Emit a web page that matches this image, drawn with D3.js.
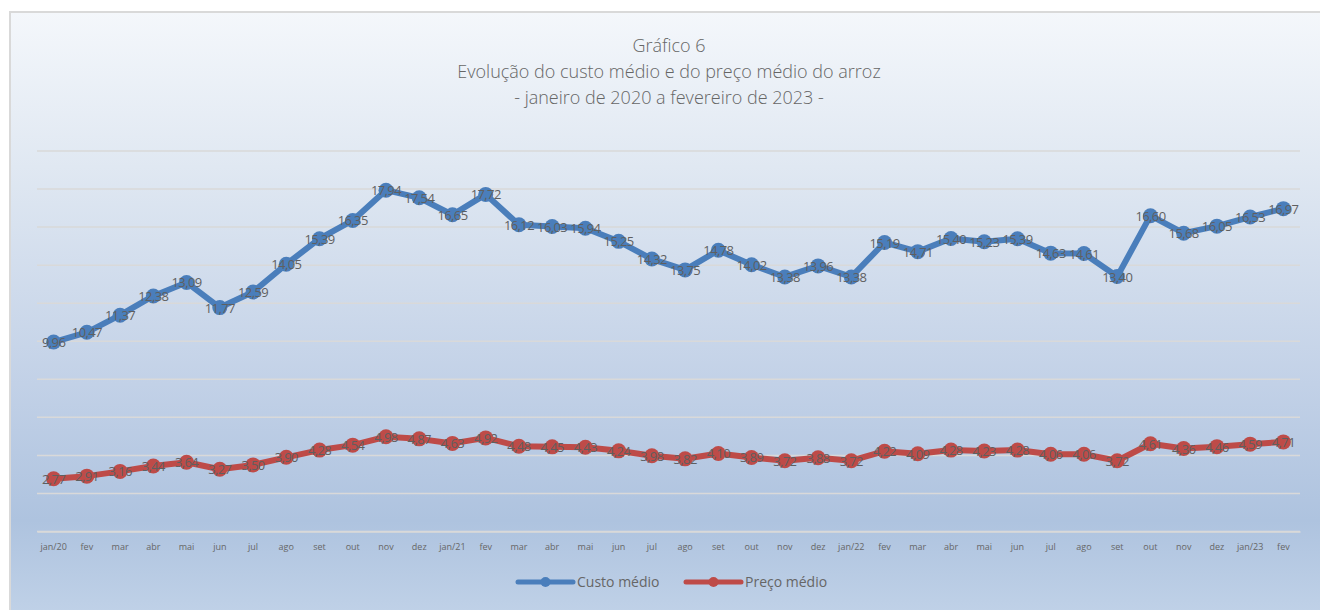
<!DOCTYPE html>
<html>
<head>
<meta charset="utf-8">
<script src="https://cdn.jsdelivr.net/npm/d3@7"></script>
<style>
  body { margin: 0; background: #ffffff; }
  text { font-family: "Open Sans", "Noto Sans", sans-serif; }
</style>
</head>
<body>
<svg id="chart" width="1320" height="610"></svg>
<script>
// Meses (eixo X)
const months = ["jan/20", "fev", "mar", "abr", "mai", "jun", "jul", "ago", "set", "out", "nov", "dez",
    "jan/21", "fev", "mar", "abr", "mai", "jun", "jul", "ago", "set", "out", "nov", "dez",
    "jan/22", "fev", "mar", "abr", "mai", "jun", "jul", "ago", "set", "out", "nov", "dez",
    "jan/23", "fev"];

// Custo médio do arroz
const custoMedio = [9.96, 10.47, 11.37, 12.38, 13.09, 11.77, 12.59, 14.05, 15.39, 16.35, 17.94, 17.54,
    16.65, 17.72, 16.12, 16.03, 15.94, 15.25, 14.32, 13.75, 14.78, 14.02, 13.38, 13.96,
    13.38, 15.19, 14.71, 15.40, 15.23, 15.39, 14.63, 14.61, 13.40, 16.60, 15.68, 16.05,
    16.53, 16.97];

// Preço médio do arroz
const precoMedio = [2.77, 2.91, 3.16, 3.44, 3.64, 3.27, 3.50, 3.90, 4.28, 4.54, 4.98, 4.87,
    4.63, 4.92, 4.48, 4.45, 4.43, 4.24, 3.98, 3.82, 4.10, 3.89, 3.72, 3.88,
    3.72, 4.22, 4.09, 4.28, 4.23, 4.28, 4.06, 4.06, 3.72, 4.61, 4.36, 4.46,
    4.59, 4.71];

const titleLines = ["Gráfico 6", "Evolução do custo médio e do preço médio do arroz", "- janeiro de 2020 a fevereiro de 2023 -"];

const svg = d3.select("#chart");

// Fundo em degradê, como no gráfico original
const defs = svg.append("defs");
const grad = defs.append("linearGradient")
    .attr("id", "bg")
    .attr("x1", 0).attr("y1", 0).attr("x2", 0).attr("y2", 1);
[[0, "#f4f7fb"], [0.25, "#e0e8f2"], [0.6, "#c2d1e7"], [0.82, "#aec3df"], [1, "#c3d4e9"]]
    .forEach(function(s) {
        grad.append("stop").attr("offset", s[0]).attr("stop-color", s[1]);
    });

svg.append("rect")
    .attr("x", 10).attr("y", 12)
    .attr("width", 1330).attr("height", 620)
    .attr("fill", "url(#bg)")
    .attr("stroke", "#d9d9d9")
    .attr("stroke-width", 2);

// Título
svg.append("g")
    .selectAll("text")
    .data(titleLines)
    .enter()
    .append("text")
    .attr("x", 669)
    .attr("y", function(_, i) { return 52 + i * 26; })
    .attr("text-anchor", "middle")
    .attr("font-size", 18)
    .attr("font-weight", 300)
    .attr("fill", "#666666")
    .text(function(d) { return d; });

// Área do gráfico
const plotLeft = 37, plotRight = 1300, plotTop = 151, plotBottom = 531.5;

const x = d3.scaleBand()
    .domain(d3.range(months.length))
    .range([plotLeft, plotRight]);

const y = d3.scaleLinear()
    .domain([0, 20])
    .range([plotBottom, plotTop]);

// Linhas de grade
svg.append("g")
    .selectAll("line")
    .data(y.ticks(10))
    .enter()
    .append("line")
    .attr("x1", plotLeft)
    .attr("x2", plotRight)
    .attr("y1", function(d) { return y(d); })
    .attr("y2", function(d) { return y(d); })
    .attr("stroke", "#d9d9d9")
    .attr("stroke-width", 1.5);

// Eixo X
const xAxis = d3.axisBottom(x)
    .tickSize(0)
    .tickPadding(12)
    .tickFormat(function(i) { return months[i]; });

const axisG = svg.append("g")
    .attr("transform", "translate(0," + plotBottom + ")")
    .call(xAxis);
axisG.select(".domain").attr("stroke", "#d9d9d9").attr("stroke-width", 1.5);
axisG.selectAll("text")
    .attr("font-size", 9)
    .attr("fill", "#666666")
    .attr("font-family", "\"Open Sans\", sans-serif");

const cx = function(i) { return x(i) + x.bandwidth() / 2; };

const series = [
    { name: "Custo médio", values: custoMedio, color: "#4a7ebb" },
    { name: "Preço médio", values: precoMedio, color: "#be4b48" }
];

const line = d3.line()
    .x(function(d, i) { return cx(i); })
    .y(function(d) { return y(d); });

const fmt = function(v) { return d3.format(".2f")(v).replace(".", ","); };

series.forEach(function(s) {
    const g = svg.append("g");

    g.append("path")
        .datum(s.values)
        .attr("d", line)
        .attr("fill", "none")
        .attr("stroke", s.color)
        .attr("stroke-width", 6)
        .attr("stroke-linejoin", "round");

    g.selectAll("circle")
        .data(s.values)
        .enter()
        .append("circle")
        .attr("cx", function(d, i) { return cx(i); })
        .attr("cy", function(d) { return y(d); })
        .attr("r", 7.5)
        .attr("fill", s.color);

    // Rótulos de dados centrados nos pontos
    g.selectAll(".lbl")
        .data(s.values)
        .enter()
        .append("text")
        .attr("class", "lbl")
        .attr("x", function(d, i) { return cx(i); })
        .attr("y", function(d) { return y(d) + 5; })
        .attr("text-anchor", "middle")
        .attr("font-size", 13)
        .attr("letter-spacing", -0.6)
        .attr("fill", "#5f5f5f")
        .text(fmt);
});

// Legenda
const legend = svg.append("g")
    .selectAll("g")
    .data(series)
    .enter()
    .append("g")
    .attr("transform", function(d, i) { return "translate(" + (518 + i * 168) + ",582)"; });

legend.append("line")
    .attr("x1", 0).attr("x2", 55)
    .attr("stroke", function(d) { return d.color; })
    .attr("stroke-width", 5)
    .attr("stroke-linecap", "round");

legend.append("circle")
    .attr("cx", 27.5)
    .attr("r", 5)
    .attr("fill", function(d) { return d.color; });

legend.append("text")
    .attr("x", 59)
    .attr("y", 5)
    .attr("font-size", 14)
    .attr("fill", "#666666")
    .text(function(d) { return d.name; });
</script>
</body>
</html>
